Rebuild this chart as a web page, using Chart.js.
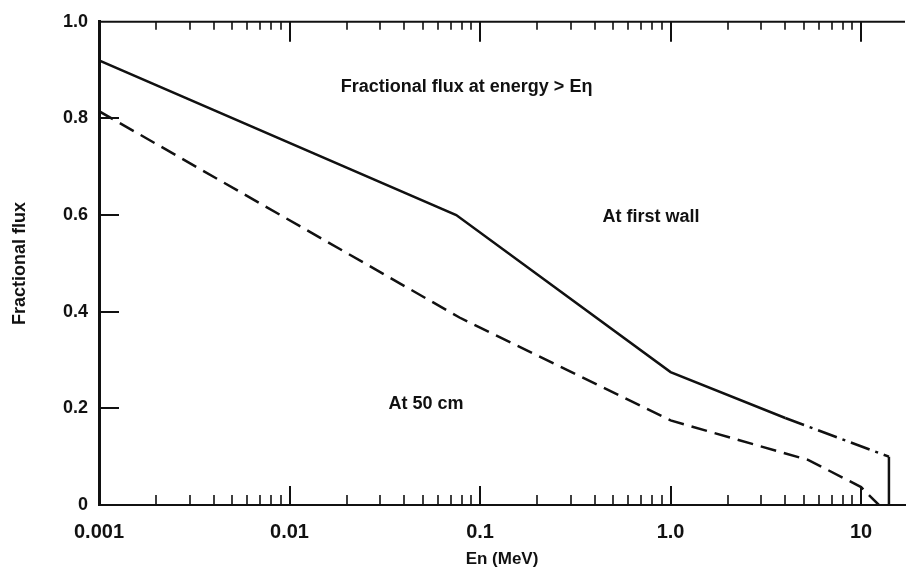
<!DOCTYPE html>
<html>
<head>
<meta charset="utf-8">
<script src="https://cdn.jsdelivr.net/npm/chart.js@4/dist/chart.umd.min.js"></script>
<style>
    body { margin: 0; background: #fff; }
    #wrap { width: 909px; height: 581px; }
</style>
</head>
<body>
<div id="wrap"><canvas id="fluxChart" width="909" height="581"></canvas></div>
<script>
// values
const wallEnergy = [0.001, 0.075, 1.0, 4.0, 14, 14];
const wallFlux = [0.92, 0.60, 0.275, 0.18, 0.10, 0];

const cmEnergy = [0.001, 0.078, 1.0, 5.3, 10, 12.4];
const cmFlux = [0.815, 0.388, 0.175, 0.093, 0.037, 0];

const xTickValues = [0.001, 0.01, 0.1, 1, 10];
const xTickLabels = ["0.001", "0.01", "0.1", "1.0", "10"];
const yTickValues = [0, 0.2, 0.4, 0.6, 0.8, 1.0];
const yTickLabels = ["0", "0.2", "0.4", "0.6", "0.8", "1.0"];

const noteText = ["Fractional flux at energy > E\u03b7", "At first wall", "At 50 cm"];
const noteEnergy = [0.085, 0.79, 0.052];
const noteFlux = [0.864, 0.596, 0.208];

const ink = "#111";
const font = "'Liberation Sans', Arial, sans-serif";

function toPoints(xs, ys) {
    return xs.map((x, i) => ({ x: x, y: ys[i] }));
}

// inward tick marks on bottom, top and left axes + text notes
const paperTicks = {
    id: "paperTicks",
    afterDraw(chart) {
        const ctx = chart.ctx;
        const xs = chart.scales.x;
        const ys = chart.scales.y;
        const area = chart.chartArea;

        ctx.save();
        ctx.strokeStyle = ink;
        ctx.lineWidth = 2;

        // top frame line
        ctx.beginPath();
        ctx.moveTo(area.left, area.top);
        ctx.lineTo(area.right, area.top);
        ctx.stroke();

        for (let k = -3; k <= 1; k++) {
            for (let m = 1; m <= 9; m++) {
                const v = m * Math.pow(10, k);
                if (v > xs.max) continue;
                const px = Math.round(xs.getPixelForValue(v));
                const major = m === 1;
                if (px <= area.left + 2) continue;
                ctx.lineWidth = major ? 2 : 1.6;
                ctx.beginPath();
                ctx.moveTo(px, area.bottom);
                ctx.lineTo(px, area.bottom - (major ? 19 : 10));
                ctx.moveTo(px, area.top);
                ctx.lineTo(px, area.top + (major ? 20 : 8));
                ctx.stroke();
            }
        }

        ctx.lineWidth = 2;
        yTickValues.forEach(v => {
            if (v <= 0 || v >= 1) return;
            const py = Math.round(ys.getPixelForValue(v));
            ctx.beginPath();
            ctx.moveTo(area.left, py);
            ctx.lineTo(area.left + 20, py);
            ctx.stroke();
        });

        ctx.fillStyle = ink;
        ctx.font = "bold 18px " + font;
        ctx.textAlign = "center";
        ctx.textBaseline = "middle";
        noteText.forEach((t, i) => {
            ctx.fillText(t, xs.getPixelForValue(noteEnergy[i]), ys.getPixelForValue(noteFlux[i]));
        });

        ctx.restore();
    }
};

const chart = new Chart(document.getElementById("fluxChart"), {
    type: "scatter",
    data: {
        datasets: [
            {
                label: "At first wall",
                data: toPoints(wallEnergy, wallFlux),
                showLine: true,
                borderColor: ink,
                borderWidth: 2.5,
                pointRadius: 0,
                tension: 0,
                segment: {
                    borderDash: c => c.p0DataIndex === 3 ? [20, 6, 3, 6] : undefined
                }
            },
            {
                label: "At 50 cm",
                data: toPoints(cmEnergy, cmFlux),
                showLine: true,
                borderColor: ink,
                borderWidth: 2.5,
                borderDash: [16, 8],
                pointRadius: 0,
                tension: 0
            }
        ]
    },
    options: {
        responsive: false,
        devicePixelRatio: 1,
        animation: false,
        layout: { padding: { top: 20, right: 4, left: 0, bottom: 0 } },
        plugins: {
            legend: { display: false },
            tooltip: { enabled: false }
        },
        scales: {
            x: {
                type: "logarithmic",
                min: 0.001,
                max: 17,
                afterBuildTicks: s => { s.ticks = xTickValues.map(v => ({ value: v })); },
                afterFit: s => { s.height = 76; },
                grid: { display: false, drawTicks: false },
                border: { display: true, color: ink, width: 2 },
                ticks: {
                    autoSkip: false,
                    maxRotation: 0,
                    padding: 15,
                    color: ink,
                    font: { family: font, size: 20, weight: "bold" },
                    callback: v => {
                        const i = xTickValues.indexOf(v);
                        return i >= 0 ? xTickLabels[i] : "";
                    }
                },
                title: {
                    display: true,
                    text: "En (MeV)",
                    color: ink,
                    font: { family: font, size: 17, weight: "bold" },
                    padding: { top: 0, bottom: 11 }
                }
            },
            y: {
                min: 0,
                max: 1,
                afterBuildTicks: s => { s.ticks = yTickValues.map(v => ({ value: v })); },
                afterFit: s => { s.width = 99; },
                grid: { display: false, drawTicks: false },
                border: { display: true, color: ink, width: 3 },
                ticks: {
                    padding: 11,
                    color: ink,
                    font: { family: font, size: 18, weight: "bold" },
                    callback: v => {
                        const i = yTickValues.indexOf(v);
                        return i >= 0 ? yTickLabels[i] : "";
                    }
                },
                title: {
                    display: true,
                    text: "Fractional flux",
                    color: ink,
                    font: { family: font, size: 18, weight: "bold" },
                    padding: { top: 9, bottom: 0 }
                }
            }
        }
    },
    plugins: [paperTicks]
});
</script>
</body>
</html>
